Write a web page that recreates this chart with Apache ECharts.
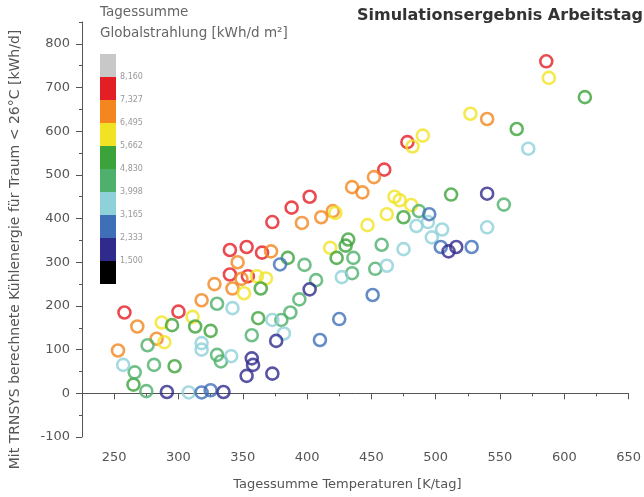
<!DOCTYPE html>
<html>
<head>
<meta charset="utf-8">
<script src="https://cdn.jsdelivr.net/npm/echarts@6/dist/echarts.min.js"></script>
<style>
  html, body { margin: 0; padding: 0; background: #fff; }
  #chart { width: 644px; height: 497px; }
</style>
</head>
<body>
<div id="chart"></div>
<script>
// Tagessumme Temperaturen [K/tag]
var tempSum = [
  586, 478, 460, 402, 388, 373, 340, 353, 365, 340, 354, 258, 300,
  540, 452, 435, 443, 396, 411, 420, 372, 346, 328, 342, 349, 318, 268, 253, 283,
  588, 527, 490, 482, 468, 472, 462, 481, 447, 418, 422, 351, 361, 368, 311, 289, 287,
  616, 563, 512, 475, 432, 430, 423, 385, 364, 362, 297, 313, 325, 265, 295,
  553, 487, 458, 436, 453, 435, 398, 407, 380, 387, 394, 357, 330, 330, 333, 276, 266, 275, 281,
  572, 540, 505, 497, 494, 485, 475, 462, 427, 382, 373, 342, 341, 318, 318, 308, 257,
  495, 504, 528, 451, 425, 410, 379, 325, 318,
  540, 510, 516, 402, 376, 373, 357, 358, 353, 291, 335
];
// Mit TRNSYS berechnete Kühlenergie [kWh/d]
var coolEnergy = [
  760, 575, 512, 450, 425, 392, 328, 335, 322, 272, 268, 185, 187,
  628, 495, 472, 460, 390, 403, 417, 325, 300, 250, 240, 262, 213, 153, 98, 125,
  722, 640, 590, 565, 450, 442, 410, 431, 385, 333, 413, 229, 268, 263, 175, 117, 162,
  678, 605, 455, 403, 352, 338, 310, 310, 240, 172, 62, 153, 143, 20, 156,
  432, 417, 340, 310, 285, 275, 294, 259, 168, 185, 215, 133, 205, 88, 73, 110, 48, 5, 65,
  560, 380, 375, 357, 392, 383, 330, 292, 266, 137, 168, 195, 85, 115, 100, 2, 65,
  410, 335, 335, 225, 170, 122, 295, 7, 2,
  457, 325, 335, 238, 120, 45, 80, 65, 40, 3, 3
];
// Tagessumme Globalstrahlung [kWh/d m²]
var radiation = [
  7700, 7700, 7700, 7700, 7700, 7700, 7700, 7700, 7700, 7700, 7700, 7700, 7700,
  6900, 6900, 6900, 6900, 6900, 6900, 6900, 6900, 6900, 6900, 6900, 6900, 6900, 6900, 6900, 6900,
  6100, 6100, 6100, 6100, 6100, 6100, 6100, 6100, 6100, 6100, 6100, 6100, 6100, 6100, 6100, 6100, 6100,
  5250, 5250, 5250, 5250, 5250, 5250, 5250, 5250, 5250, 5250, 5250, 5250, 5250, 5250, 5250,
  4400, 4400, 4400, 4400, 4400, 4400, 4400, 4400, 4400, 4400, 4400, 4400, 4400, 4400, 4400, 4400, 4400, 4400, 4400,
  3580, 3580, 3580, 3580, 3580, 3580, 3580, 3580, 3580, 3580, 3580, 3580, 3580, 3580, 3580, 3580, 3580,
  2750, 2750, 2750, 2750, 2750, 2750, 2750, 2750, 2750,
  1900, 1900, 1900, 1900, 1900, 1900, 1900, 1900, 1900, 1900, 1900
];

var binEdges = [1500, 2333, 3165, 3998, 4830, 5662, 6495, 7327, 8160];
var binLabels = ["1,500", "2,333", "3,165", "3,998", "4,830", "5,662", "6,495", "7,327", "8,160"];
// from below 1500 up to above 8160
var binColors = ["#000000", "#2f2a8c", "#3f6fb6", "#8fd1d9", "#4fb06c", "#3ca23a", "#f1e323", "#f3861f", "#e31e24", "#c8c8c8"];

var xLabels = [250, 300, 350, 400, 450, 500, 550, 600, 650];
var xMinor = [225, 275, 325, 375, 425, 475, 525, 575, 625];
var yLabels = [-100, 0, 100, 200, 300, 400, 500, 600, 700, 800];
var yMinor = [-50, 50, 150, 250, 350, 450, 550, 650, 750, 850];

function colorFor(v) {
  var i = 0;
  while (i < binEdges.length && v >= binEdges[i]) i++;
  return binColors[i];
}

var points = tempSum.map(function (t, i) {
  return {
    value: [t, coolEnergy[i], radiation[i]],
    itemStyle: { color: "rgba(0,0,0,0)", borderColor: colorFor(radiation[i]), borderWidth: 2.6 }
  };
});

// Farbskala
var barX = 100, barTop = 54, segH = 23;
var legendItems = [];
for (var k = 0; k < binColors.length; k++) {
  legendItems.push({
    type: "rect",
    shape: { x: barX, y: barTop + (binColors.length - 1 - k) * segH, width: 16, height: segH },
    style: { fill: binColors[k] }
  });
}
for (var j = 0; j < binLabels.length; j++) {
  legendItems.push({
    type: "text",
    x: barX + 20,
    y: barTop + (binColors.length - 1 - j) * segH,
    style: { text: binLabels[j], fill: "#999", font: "8px 'DejaVu Sans'", verticalAlign: "middle" }
  });
}
legendItems.push({
  type: "text", x: 100, y: 5,
  style: { text: "Tagessumme", fill: "#666", font: "13.5px 'DejaVu Sans'" }
});
legendItems.push({
  type: "text", x: 100, y: 26,
  style: { text: "Globalstrahlung [kWh/d m²]", fill: "#666", font: "13.5px 'DejaVu Sans'" }
});

var axisColor = "#555";
var chart = echarts.init(document.getElementById("chart"));
chart.setOption({
  animation: false,
  backgroundColor: "#fff",
  title: {
    text: "Simulationsergebnis Arbeitstag",
    left: 357,
    top: 8,
    padding: 0,
    textStyle: { fontFamily: "DejaVu Sans", fontSize: 16, fontWeight: "bold", color: "#333" }
  },
  grid: { left: 81, right: 12, top: 22, bottom: 60 },
  xAxis: [
    {
      type: "value", min: 225, max: 650, position: "bottom",
      name: "Tagessumme Temperaturen [K/tag]",
      nameLocation: "middle", nameGap: 41,
      nameTextStyle: { fontFamily: "DejaVu Sans", fontSize: 13, color: axisColor, padding: [0, 16, 0, 0] },
      axisLine: { lineStyle: { color: axisColor, width: 1 } },
      axisTick: { customValues: xLabels, length: 6, lineStyle: { color: axisColor } },
      axisLabel: { customValues: xLabels, margin: 14, fontFamily: "DejaVu Sans", fontSize: 13, color: axisColor },
      splitLine: { show: false }
    },
    {
      type: "value", min: 225, max: 650, position: "bottom",
      axisLine: { show: false },
      axisTick: { customValues: xMinor, length: 3, lineStyle: { color: axisColor } },
      axisLabel: { show: false },
      splitLine: { show: false }
    }
  ],
  yAxis: [
    {
      type: "value", min: -100, max: 850, position: "left",
      name: "Mit TRNSYS berechnete Kühlenergie für Traum < 26°C [kWh/d]",
      nameLocation: "middle", nameGap: 60,
      nameTextStyle: { fontFamily: "DejaVu Sans", fontSize: 14, color: axisColor, padding: [0, 40, 0, 0] },
      axisLine: { lineStyle: { color: axisColor, width: 1 } },
      axisTick: { customValues: yLabels, length: 6, lineStyle: { color: axisColor } },
      axisLabel: { customValues: yLabels, margin: 12, fontFamily: "DejaVu Sans", fontSize: 13, color: axisColor },
      splitLine: { show: false }
    },
    {
      type: "value", min: -100, max: 850, position: "left",
      axisLine: { show: false },
      axisTick: { customValues: yMinor, length: 3, lineStyle: { color: axisColor } },
      axisLabel: { show: false },
      splitLine: { show: false }
    }
  ],
  graphic: legendItems,
  series: [
    {
      type: "scatter",
      xAxisIndex: 0,
      yAxisIndex: 0,
      symbol: "circle",
      symbolSize: 12,
      data: points
    }
  ]
});
</script>
</body>
</html>
